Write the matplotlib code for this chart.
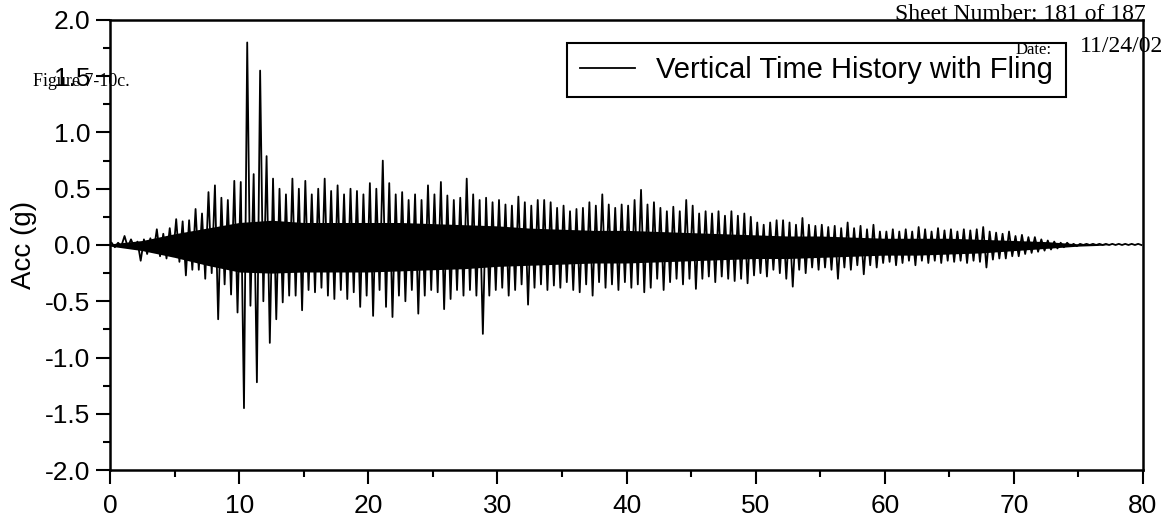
import numpy as np
import matplotlib
matplotlib.use("Agg")
import matplotlib.pyplot as plt
from matplotlib.ticker import MultipleLocator, FormatStrFormatter

# peak values of the record, one max and one min per 0.5 s window
bin_width = 0.5
acc_max = [
    0.02, 0.02, 0.08, 0.05, 0.03, 0.05, 0.06, 0.14, 0.10, 0.15,   # 0 - 5 s
    0.23, 0.21, 0.22, 0.32, 0.28, 0.47, 0.53, 0.42, 0.40, 0.57,   # 5 - 10 s
    0.56, 1.80, 0.63, 1.55, 0.79, 0.59, 0.50, 0.45, 0.59, 0.50,   # 10 - 15 s
    0.57, 0.45, 0.50, 0.59, 0.48, 0.53, 0.45, 0.50, 0.48, 0.45,   # 15 - 20 s
    0.55, 0.50, 0.75, 0.55, 0.45, 0.47, 0.40, 0.45, 0.40, 0.53,   # 20 - 25 s
    0.45, 0.56, 0.44, 0.40, 0.42, 0.59, 0.45, 0.40, 0.42, 0.38,   # 25 - 30 s
    0.40, 0.36, 0.35, 0.43, 0.38, 0.35, 0.40, 0.40, 0.38, 0.33,   # 30 - 35 s
    0.35, 0.30, 0.32, 0.33, 0.38, 0.35, 0.45, 0.36, 0.33, 0.36,   # 35 - 40 s
    0.35, 0.40, 0.49, 0.36, 0.38, 0.33, 0.30, 0.34, 0.30, 0.40,   # 40 - 45 s
    0.35, 0.28, 0.30, 0.28, 0.30, 0.26, 0.30, 0.26, 0.28, 0.25,   # 45 - 50 s
    0.20, 0.18, 0.20, 0.22, 0.22, 0.20, 0.18, 0.24, 0.18, 0.17,   # 50 - 55 s
    0.18, 0.16, 0.17, 0.15, 0.20, 0.15, 0.17, 0.14, 0.18, 0.12,   # 55 - 60 s
    0.12, 0.14, 0.12, 0.14, 0.12, 0.16, 0.14, 0.12, 0.15, 0.13,   # 60 - 65 s
    0.14, 0.12, 0.14, 0.13, 0.14, 0.16, 0.12, 0.11, 0.10, 0.12,   # 65 - 70 s
    0.08, 0.09, 0.07, 0.07, 0.05, 0.04, 0.03, 0.02, 0.02, 0.01,   # 70 - 75 s
    0.01, 0.01, 0.01, 0.01, 0.01, 0.01, 0.01, 0.01, 0.01, 0.01,   # 75 - 80 s
]
acc_min = [
    -0.02, -0.01, -0.02, -0.02, -0.14, -0.08, -0.06, -0.10, -0.12, -0.10,
    -0.15, -0.27, -0.22, -0.22, -0.30, -0.25, -0.66, -0.35, -0.44, -0.60,
    -1.45, -0.54, -1.22, -0.50, -0.87, -0.66, -0.51, -0.45, -0.45, -0.58,
    -0.40, -0.42, -0.38, -0.45, -0.48, -0.40, -0.48, -0.42, -0.55, -0.45,
    -0.63, -0.40, -0.55, -0.64, -0.45, -0.50, -0.40, -0.61, -0.45, -0.40,
    -0.42, -0.57, -0.48, -0.40, -0.45, -0.40, -0.45, -0.79, -0.45, -0.40,
    -0.38, -0.45, -0.40, -0.35, -0.53, -0.38, -0.35, -0.40, -0.36, -0.38,
    -0.33, -0.40, -0.42, -0.35, -0.45, -0.33, -0.38, -0.35, -0.40, -0.33,
    -0.38, -0.35, -0.42, -0.38, -0.30, -0.40, -0.33, -0.30, -0.35, -0.30,
    -0.39, -0.30, -0.28, -0.33, -0.28, -0.30, -0.32, -0.30, -0.34, -0.27,
    -0.25, -0.28, -0.22, -0.25, -0.30, -0.37, -0.22, -0.25, -0.20, -0.22,
    -0.20, -0.22, -0.30, -0.20, -0.22, -0.18, -0.26, -0.18, -0.20, -0.16,
    -0.15, -0.18, -0.16, -0.14, -0.18, -0.14, -0.16, -0.14, -0.16, -0.14,
    -0.15, -0.14, -0.16, -0.14, -0.15, -0.20, -0.13, -0.12, -0.12, -0.10,
    -0.10, -0.08, -0.07, -0.06, -0.05, -0.04, -0.03, -0.02, -0.01, -0.01,
    -0.00, -0.00, -0.00, -0.00, -0.00, -0.00, -0.00, -0.00, -0.00, -0.00,
]

# extent of the solid black band of the trace, every 2.5 s
core_t = [0, 2.5, 5, 7.5, 10, 12.5, 15, 17.5, 20, 22.5, 25, 27.5, 30, 32.5, 35, 37.5, 40,
          42.5, 45, 47.5, 50, 52.5, 55, 57.5, 60, 62.5, 65, 67.5, 70, 72.5, 75, 77.5, 80]
core_hi = [0.01, 0.04, 0.10, 0.15, 0.20, 0.22, 0.20, 0.20, 0.20, 0.20, 0.19, 0.18, 0.17,
           0.15, 0.14, 0.13, 0.13, 0.12, 0.11, 0.10, 0.09, 0.08, 0.08, 0.07, 0.06, 0.06,
           0.06, 0.05, 0.04, 0.03, 0.01, 0.0, 0.0]
core_lo = [-0.01, -0.05, -0.11, -0.18, -0.24, -0.25, -0.24, -0.24, -0.24, -0.23, -0.22,
           -0.21, -0.19, -0.18, -0.17, -0.16, -0.16, -0.15, -0.14, -0.13, -0.12, -0.12,
           -0.11, -0.10, -0.09, -0.09, -0.08, -0.07, -0.05, -0.03, -0.01, 0.0, 0.0]

legend_label = "Vertical Time History with Fling"
y_label = "Acc (g)"


def main():
    plt.rcParams['font.family'] = ['Liberation Sans', 'DejaVu Sans']

    fig = plt.figure(figsize=(11.63, 5.23), dpi=100)
    ax = fig.add_axes([0.0946, 0.1013, 0.8882, 0.8605])

    # zigzag max -> min inside every window so the trace looks like the dense record
    t0 = np.arange(len(acc_max)) * bin_width
    t = np.empty(2 * len(t0))
    acc = np.empty(2 * len(t0))
    t[0::2] = t0 + bin_width * 0.25
    t[1::2] = t0 + bin_width * 0.75
    acc[0::2] = acc_max
    acc[1::2] = acc_min
    ax.fill_between(core_t, core_lo, core_hi, color='black', lw=0)
    ax.plot(t, acc, color='black', lw=1.3, label=legend_label)

    ax.set_xlim(0, 80)
    ax.set_ylim(-2.0, 2.0)
    ax.xaxis.set_major_locator(MultipleLocator(10))
    ax.xaxis.set_minor_locator(MultipleLocator(5))
    ax.yaxis.set_major_locator(MultipleLocator(0.5))
    ax.yaxis.set_minor_locator(MultipleLocator(0.25))
    ax.yaxis.set_major_formatter(FormatStrFormatter('%.1f'))

    for side in ['left', 'right', 'top', 'bottom']:
        ax.spines[side].set_linewidth(1.8)
    ax.tick_params(which='major', length=10, width=1.5, labelsize=19, pad=4)
    ax.tick_params(which='minor', length=5, width=1.5)
    ax.tick_params(axis='x', which='major', pad=7)
    ax.set_ylabel(y_label, fontsize=20, labelpad=6)

    leg = ax.legend(loc='upper right', bbox_to_anchor=(0.925, 0.949), fontsize=21,
                    handlelength=1.9, handletextpad=0.7, fancybox=False,
                    framealpha=1, edgecolor='black', borderpad=0.45, borderaxespad=0)
    leg.get_frame().set_linewidth(1.5)

    # scanned page stamps
    fig.text(33 / 1163, 1 - 82 / 523, "Figure 7-10c.", family='Liberation Serif',
             fontsize=13, va='center', ha='left')
    fig.text(895 / 1163, 1 - 15 / 523, "Sheet Number: 181 of 187", family='Liberation Serif',
             fontsize=17, va='center', ha='left')
    fig.text(1016 / 1163, 1 - 50 / 523, "Date:", family='Liberation Serif',
             fontsize=12, va='center', ha='left')
    fig.text(1080 / 1163, 1 - 47 / 523, "11/24/02", family='Liberation Serif',
             fontsize=17, va='center', ha='left')

    fig.savefig('out.png', dpi=100)


if __name__ == "__main__":
    main()
